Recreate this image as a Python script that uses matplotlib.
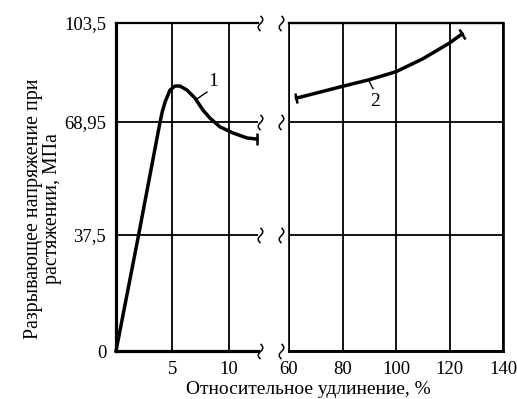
import matplotlib
matplotlib.use("Agg")
import matplotlib.pyplot as plt
import numpy as np
from matplotlib.path import Path
from matplotlib.markers import MarkerStyle
from matplotlib.transforms import Affine2D

plt.rcParams['font.family'] = ['Liberation Serif', 'DejaVu Serif']

# curve 1: 0..12.5 % elongation
x1 = [0, 2.0, 3.9, 4.1, 4.34, 4.78, 5.22, 5.66, 6.28, 6.99, 7.70, 8.32, 9.20, 10.35, 11.6, 12.48]
y1 = [0, 37.5, 68.95, 72.6, 75.9, 80.1, 81.5, 81.5, 80.1, 77.3, 73.1, 70.3, 67.6, 65.9, 64.5, 64.2]
# curve 2: 60..140 % elongation
x2 = [62.8, 70, 80, 90, 100, 110, 120, 124.7]
y2 = [77.3, 79.0, 81.4, 83.7, 86.5, 91.0, 96.5, 99.7]

y_ticks = [0, 37.5, 68.95, 103.5]
y_labels = ['0', '37,5', '68,95', '103,5']
x_ticks_left = [5, 10]
x_ticks_right = [60, 80, 100, 120, 140]

# uneven graph-paper spacing of the y grid
y_val = [-1000, 0, 37.5, 68.95, 103.5, 1000]
y_pos = [-3090, 0, 116, 229, 328, 328 + 896.5 * 2.87]


def fwd(v):
    return np.interp(v, y_val, y_pos)


def inv(p):
    return np.interp(p, y_pos, y_val)


fig = plt.figure(figsize=(5.17, 3.99), dpi=100)
ax1 = fig.add_axes([116/517, 1-351/399, 142/517, 328/399])
ax2 = fig.add_axes([289/517, 1-351/399, 214/517, 328/399])

for ax in (ax1, ax2):
    ax.set_yscale('function', functions=(fwd, inv))
    ax.set_ylim(0, 103.5)
    ax.set_yticks(y_ticks)
    ax.grid(True, color='black', lw=1.3)
    ax.tick_params(length=0, labelsize=13.5, pad=7)

ax1.set_xlim(0, 12.57)
ax1.set_xticks(x_ticks_left)
ax1.set_yticklabels(y_labels)
ax1.spines['right'].set_visible(False)
ax1.spines['left'].set_linewidth(2.3)
ax1.spines['bottom'].set_linewidth(2.3)
ax1.spines['top'].set_linewidth(1.6)

ax2.set_xlim(60, 140)
ax2.set_xticks(x_ticks_right)
ax2.set_yticklabels([])
for s, w in [('left', 1.2), ('top', 1.7), ('right', 1.9), ('bottom', 2.1)]:
    ax2.spines[s].set_linewidth(w)

ax1.plot(x1, y1, color='black', lw=2.5, solid_joinstyle='round', clip_on=False)
ax1.plot([x1[-1]], [y1[-1]], marker='|', ms=8, mew=1.8, color='black', clip_on=False)
ax2.plot(x2, y2, color='black', lw=2.5, solid_joinstyle='round', clip_on=False)
ax2.plot([x2[0]], [y2[0]], marker=MarkerStyle('|', transform=Affine2D().rotate_deg(15)),
         ms=8, mew=1.8, color='black', clip_on=False)
ax2.plot([x2[-1]], [y2[-1]], marker=MarkerStyle('|', transform=Affine2D().rotate_deg(35)),
         ms=8, mew=1.8, color='black', clip_on=False)

# curve labels with leader lines
ax1.plot([7.17, 8.05], [77.0, 79.4], color='black', lw=1.0)
ax1.text(8.2, 80.0, '1', fontsize=14, ha='left', va='bottom')
ax2.plot([89.9, 91.4], [83.3, 80.6], color='black', lw=1.0)
ax2.text(92.2, 79.0, '2', fontsize=14, ha='center', va='top')

# break squiggles
t = np.linspace(-1, 1, 30)
sq = Path(np.column_stack([0.3 * np.sin(np.pi * t), t]))
for yv in y_ticks:
    ax1.plot([12.57 + 0.15], [yv], marker=sq, ms=11, mfc='none', mec='black', mew=1.1,
             color='black', clip_on=False)
    ax2.plot([60 - 2.9], [yv], marker=sq, ms=11, mfc='none', mec='black', mew=1.1,
             color='black', clip_on=False)

fig.text(43/517, 1-209/399, 'Разрывающее напряжение при\nрастяжении, МПа',
         rotation=90, ha='center', va='center', multialignment='center',
         fontsize=14.3, linespacing=1.0)
fig.text(308/517, 1-390/399, 'Относительное удлинение, %', ha='center', va='center',
         fontsize=14)

fig.savefig('out.png', dpi=100)
